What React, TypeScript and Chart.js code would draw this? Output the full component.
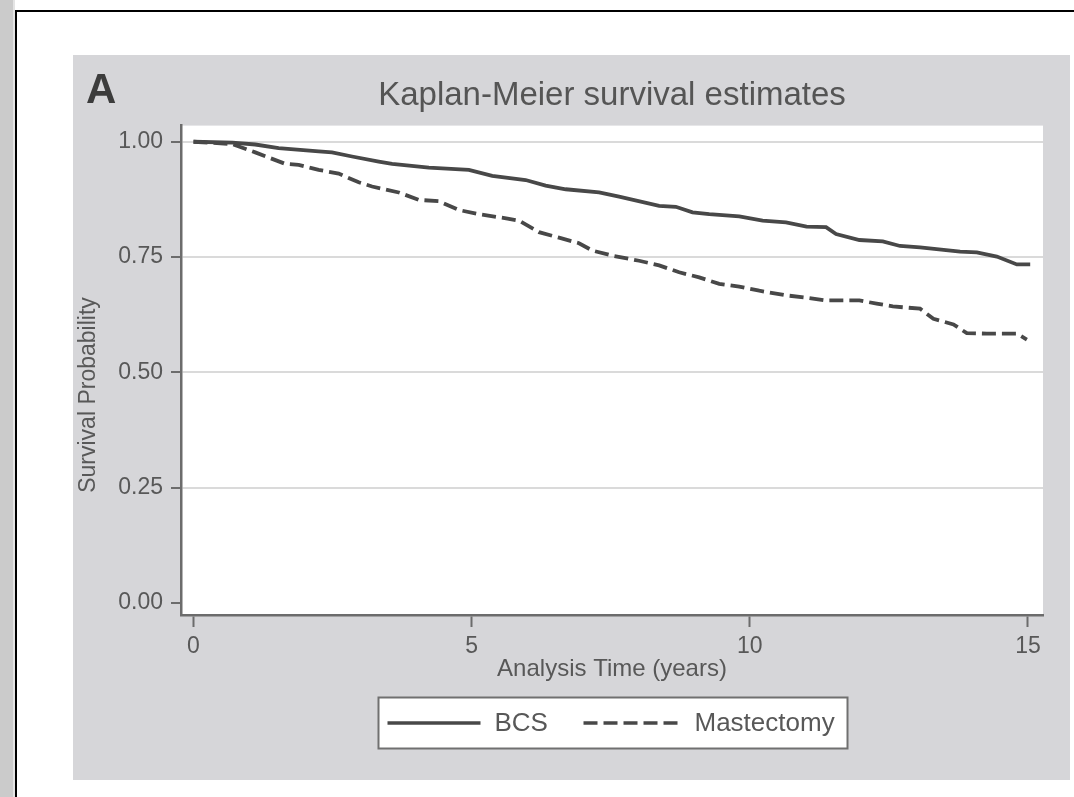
import React, { useEffect, useRef } from "react";
import { Chart, registerables } from "chart.js";

Chart.register(...registerables);

// ---- data ----
const bcsTime = [0, 0.7, 1.11, 1.53, 2.25, 2.49, 2.85, 3.33, 3.57, 4.23, 4.95, 5.37, 5.97, 6.33, 6.69, 7.29, 7.65, 8.37, 8.67, 8.97, 9.27, 9.81, 10.23, 10.65, 11.02, 11.37, 11.55, 11.97, 12.39, 12.7, 13.06, 13.78, 14.08, 14.44, 14.8, 15.04];
const bcsSurvival = [1.0, 0.998, 0.994, 0.986, 0.979, 0.977, 0.968, 0.957, 0.952, 0.944, 0.939, 0.926, 0.917, 0.905, 0.897, 0.89, 0.881, 0.861, 0.859, 0.847, 0.843, 0.838, 0.829, 0.825, 0.816, 0.815, 0.8, 0.787, 0.784, 0.774, 0.771, 0.762, 0.76, 0.751, 0.734, 0.734];

const mastTime = [0, 0.69, 1.11, 1.65, 1.89, 2.25, 2.61, 2.97, 3.21, 3.69, 4.05, 4.41, 4.77, 5.13, 5.67, 5.85, 6.21, 6.57, 6.93, 7.17, 7.53, 8.01, 8.37, 8.73, 9.09, 9.45, 9.81, 10.17, 10.65, 11.02, 11.37, 11.97, 12.28, 12.57, 13.06, 13.3, 13.66, 13.9, 14.26, 14.8, 14.98];
const mastSurvival = [1.0, 0.995, 0.977, 0.952, 0.95, 0.939, 0.931, 0.912, 0.903, 0.89, 0.874, 0.871, 0.852, 0.843, 0.833, 0.829, 0.804, 0.792, 0.78, 0.764, 0.753, 0.742, 0.732, 0.717, 0.706, 0.692, 0.686, 0.677, 0.667, 0.662, 0.656, 0.656, 0.649, 0.643, 0.638, 0.616, 0.604, 0.585, 0.584, 0.584, 0.571];

const xTickValues = [0, 5, 10, 15];
const yTickValues = [0, 0.25, 0.5, 0.75, 1];
const seriesLabels = ["BCS", "Mastectomy"];
const titleText = "Kaplan-Meier survival estimates";
const panelLabel = "A";
const xAxisTitle = "Analysis Time (years)";
const yAxisTitle = "Survival Probability";

const FONT = "'Liberation Sans', Arial, Helvetica, sans-serif";
const TEXT = "#585858";
const LINE = "#484848";
const AXIS = "#6c6c6c";
const DASH = [14, 6];

const decorPlugin = {
  id: "decor",
  beforeDraw(chart: any) {
    const { ctx, width, height, chartArea } = chart;
    ctx.save();
    ctx.fillStyle = "#d6d6d9";
    ctx.fillRect(0, 0, width, height);
    ctx.fillStyle = "#ffffff";
    ctx.fillRect(chartArea.left, chartArea.top, chartArea.right - chartArea.left, chartArea.bottom - chartArea.top);
    ctx.restore();
  },
  afterDraw(chart: any) {
    const { ctx, chartArea } = chart;
    ctx.save();
    // panel letter
    ctx.font = `bold 42px ${FONT}`;
    ctx.fillStyle = "#3c3c3c";
    ctx.textBaseline = "alphabetic";
    ctx.textAlign = "left";
    ctx.fillText(panelLabel, 13, 48);

    // y axis title
    ctx.save();
    ctx.translate(16, 340);
    ctx.rotate(-Math.PI / 2);
    ctx.font = `23px ${FONT}`;
    ctx.fillStyle = TEXT;
    ctx.textAlign = "center";
    ctx.textBaseline = "middle";
    ctx.fillText(yAxisTitle, 0, 0);
    ctx.restore();

    // legend
    const cx = (chartArea.left + chartArea.right) / 2;
    const boxW = 469;
    const boxH = 51;
    const bx = Math.round(cx - boxW / 2) + 0.5;
    const by = chartArea.bottom + 82 + 0.5;
    ctx.fillStyle = "#ffffff";
    ctx.fillRect(bx, by, boxW, boxH);
    ctx.strokeStyle = "#707070";
    ctx.lineWidth = 2;
    ctx.strokeRect(bx, by, boxW, boxH);

    const ly = by + 25.5;
    ctx.strokeStyle = LINE;
    ctx.lineWidth = 3.5;
    ctx.beginPath();
    ctx.moveTo(bx + 9, ly);
    ctx.lineTo(bx + 102, ly);
    ctx.stroke();
    ctx.setLineDash(DASH);
    ctx.beginPath();
    ctx.moveTo(bx + 205, ly);
    ctx.lineTo(bx + 304, ly);
    ctx.stroke();
    ctx.setLineDash([]);

    ctx.font = `26px ${FONT}`;
    ctx.fillStyle = TEXT;
    ctx.textAlign = "left";
    ctx.textBaseline = "middle";
    ctx.fillText(seriesLabels[0], bx + 116, ly + 1);
    ctx.fillText(seriesLabels[1], bx + 316, ly + 1);
    ctx.restore();
  },
};

export default function App() {
  const ref = useRef<HTMLCanvasElement>(null);

  useEffect(() => {
    if (!ref.current) return;
    const bcs = bcsTime.map((t, i) => ({ x: t, y: bcsSurvival[i] }));
    const mast = mastTime.map((t, i) => ({ x: t, y: mastSurvival[i] }));
    const chart = new Chart(ref.current, {
      type: "line",
      data: {
        datasets: [
          {
            label: seriesLabels[0],
            data: bcs,
            borderColor: LINE,
            borderWidth: 3.8,
            pointRadius: 0,
            tension: 0,
            fill: false,
          },
          {
            label: seriesLabels[1],
            data: mast,
            borderColor: LINE,
            borderWidth: 3.8,
            borderDash: DASH,
            pointRadius: 0,
            tension: 0,
            fill: false,
          },
        ],
      },
      options: {
        animation: false,
        responsive: false,
        maintainAspectRatio: false,
        layout: { padding: { left: 0, right: 27, top: 0, bottom: 85 } },
        plugins: {
          legend: { display: false },
          tooltip: { enabled: false },
          title: {
            display: true,
            text: titleText,
            fullSize: false,
            color: "#555555",
            font: { family: FONT, size: 33, weight: "normal" },
            padding: { top: 21, bottom: 10 },
          },
        },
        scales: {
          x: {
            type: "linear",
            min: -0.225,
            max: 15.27,
            afterBuildTicks: (s: any) => {
              s.ticks = xTickValues.map((v) => ({ value: v }));
            },
            afterFit: (s: any) => {
              s.height = 80;
            },
            grid: {
              drawOnChartArea: false,
              drawTicks: true,
              tickLength: 12,
              tickColor: AXIS,
              tickWidth: 2,
            },
            border: { display: true, color: AXIS, width: 2.5 },
            ticks: {
              color: TEXT,
              font: { family: FONT, size: 23 },
              padding: 6,
              maxRotation: 0,
              autoSkip: false,
              callback: (v: any) => String(v),
            },
            title: {
              display: true,
              text: xAxisTitle,
              color: TEXT,
              font: { family: FONT, size: 24 },
              padding: { top: 0, bottom: 11 },
            },
          },
          y: {
            min: -0.026,
            max: 1.035,
            afterBuildTicks: (s: any) => {
              s.ticks = yTickValues.map((v) => ({ value: v }));
            },
            afterFit: (s: any) => {
              s.width = 108;
            },
            grid: {
              color: (c: any) => (c.tick && c.tick.value === 0 ? "rgba(0,0,0,0)" : "#dadada"),
              lineWidth: 2,
              drawTicks: true,
              tickLength: 10,
              tickColor: AXIS,
              tickWidth: 2,
            },
            border: { display: true, color: AXIS, width: 2.5 },
            ticks: {
              color: TEXT,
              font: { family: FONT, size: 23 },
              padding: 8,
              autoSkip: false,
              callback: (v: any) => Number(v).toFixed(2),
            },
            title: { display: false },
          },
        },
      },
      plugins: [decorPlugin],
    } as any);
    return () => chart.destroy();
  }, []);

  return (
    <div
      style={{
        position: "absolute",
        left: 0,
        top: 0,
        width: 1074,
        height: 797,
        overflow: "hidden",
        background: "#ffffff",
      }}
    >
      <div style={{ position: "absolute", left: 0, top: 0, width: 13, height: 797, background: "#cbcbcb" }} />
      <div style={{ position: "absolute", left: 13, top: 0, width: 2, height: 797, background: "#e4e4e4" }} />
      <div
        style={{
          position: "absolute",
          left: 15,
          top: 10,
          width: 1100,
          height: 900,
          borderLeft: "2px solid #000",
          borderTop: "2px solid #000",
        }}
      />
      <canvas
        ref={ref}
        width={997}
        height={725}
        style={{ position: "absolute", left: 73, top: 55, width: 997, height: 725 }}
      />
    </div>
  );
}
